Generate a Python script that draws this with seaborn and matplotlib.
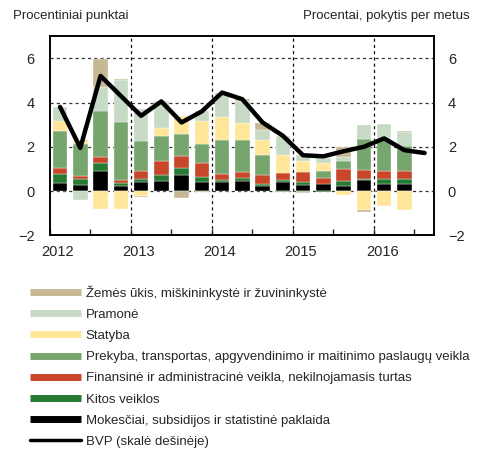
import matplotlib
matplotlib.use("Agg")
import matplotlib.pyplot as plt
import numpy as np
import pandas as pd
import seaborn as sns
from matplotlib.lines import Line2D

sns.set_style("ticks")
plt.rcParams["font.family"] = ["Liberation Sans", "DejaVu Sans"]

# --- data ---
years = [2012, 2013, 2014, 2015, 2016]
quarters = [f"{y}Q{q}" for y in years for q in range(1, 5)][:19]

taxes = [0.35, 0.26, 0.93, 0.21, 0.39, 0.47, 0.74, 0.39, 0.42, 0.46, 0.24, 0.41, 0.27, 0.30, 0.21, 0.48, 0.34, 0.34]
other = [0.41, 0.29, 0.36, 0.14, 0.17, 0.27, 0.30, 0.23, 0.10, 0.12, 0.10, 0.10, 0.14, -0.05, 0.23, 0.05, 0.20, 0.20]
finance = [0.27, 0.12, 0.23, 0.15, 0.36, 0.60, 0.53, 0.63, 0.24, 0.28, 0.37, 0.33, 0.44, 0.29, 0.56, 0.42, 0.35, 0.35]
trade = [1.70, 1.46, 2.12, 2.60, 1.35, 1.13, 1.02, 0.87, 1.53, 1.45, 0.90, -0.04, -0.04, 0.32, 0.35, 1.41, 1.47, 1.16]
construction = [0.42, 0.12, -0.81, -0.81, -0.20, 0.36, 0.81, 1.05, 1.05, 0.78, 0.70, 0.80, 0.53, 0.36, -0.18, -0.84, -0.65, -0.86]
industry = [0.65, -0.39, 1.04, 1.90, 1.43, 1.25, 0.00, 0.45, 1.05, 0.99, 0.45, 0.83, 0.27, 0.24, 0.20, 0.62, 0.65, 0.60]
agriculture = [0.00, 0.05, 1.29, 0.08, -0.08, 0.00, -0.30, -0.05, 0.05, 0.07, 0.30, 0.00, -0.04, 0.00, 0.45, -0.12, 0.00, 0.08]
gdp = [3.80, 1.95, 5.20, 4.30, 3.40, 4.05, 3.10, 3.60, 4.45, 4.15, 3.10, 2.50, 1.62, 1.57, 1.80, 2.00, 2.38, 1.85, 1.72]

labels = [
    "Žemės ūkis, miškininkystė ir žuvininkystė",
    "Pramonė",
    "Statyba",
    "Prekyba, transportas, apgyvendinimo ir maitinimo paslaugų veikla",
    "Finansinė ir administracinė veikla, nekilnojamasis turtas",
    "Kitos veiklos",
    "Mokesčiai, subsidijos ir statistinė paklaida",
]
gdp_label = "BVP (skalė dešinėje)"
colors = ["#c7b894", "#c6dac6", "#ffe699", "#76a56e", "#c8472a", "#267a31", "#000000"]

# stacking order from zero outwards
stack = [taxes, other, finance, trade, construction, industry, agriculture]
stack_colors = colors[::-1]

x_bar = np.array([int(q[:4]) + (int(q[-1]) - 0.5) / 4 for q in quarters[:len(taxes)]])
x_line = np.array([int(q[:4]) + (int(q[-1]) - 0.5) / 4 for q in quarters[:len(gdp)]])

fig = plt.figure(figsize=(4.8, 4.51), dpi=100)
ax = fig.add_axes([0.104, 0.478, 0.800, 0.442])

pos = np.zeros(len(x_bar))
neg = np.zeros(len(x_bar))
for vals, col in zip(stack, stack_colors):
    v = np.array(vals)
    bottom = np.where(v >= 0, pos, neg)
    ax.bar(x_bar, v, width=0.18, bottom=bottom, color=col,
           edgecolor="#ffffff", linewidth=0.25, zorder=2)
    pos += np.clip(v, 0, None)
    neg += np.clip(v, None, 0)

ax.set_xlim(2012, 2016.74)
ax.set_ylim(-2, 7)
for yv in [0, 2, 4, 6]:
    ax.axhline(yv, color="#333333", lw=0.9, ls=(0, (2.5, 2.5)), zorder=1)
for yr in years[1:]:
    ax.axvline(yr, color="#111111", lw=0.9, ls=(0, (2.5, 2.5)), zorder=3)

ax.set_yticks([-2, 0, 2, 4, 6])
ax.tick_params(axis="y", length=0, pad=11, labelsize=10.5)
ax.set_xticks([2012, 2012.5, 2013, 2013.5, 2014, 2014.5, 2015, 2015.5, 2016, 2016.5])
ax.set_xticklabels([])
ax.tick_params(axis="x", which="major", direction="in", length=4, width=1)
ax.set_xticks([y + 0.1 for y in years], [str(y) for y in years], minor=True)
ax.tick_params(axis="x", which="minor", length=0, pad=7, labelsize=10.5)

ax2 = ax.twinx()
sns.lineplot(x=x_line, y=gdp, ax=ax2, color="black", lw=3.2, zorder=5)
ax2.set_ylim(-2, 7)
ax2.set_yticks([-2, 0, 2, 4, 6])
ax2.tick_params(axis="y", length=0, pad=10, labelsize=10.5)

for a in (ax, ax2):
    for s in a.spines.values():
        s.set_visible(True)
        s.set_color("black")
        s.set_linewidth(1.2)

fig.text(0.027, 0.965, "Procentiniai punktai", fontsize=9.5, va="center", ha="left")
fig.text(0.979, 0.965, "Procentai, pokytis per metus", fontsize=9.5, va="center", ha="right")

handles = [Line2D([], [], color=c, lw=5, solid_capstyle="butt") for c in colors]
handles.append(Line2D([], [], color="black", lw=2.5, solid_capstyle="round"))
fig.legend(handles, labels + [gdp_label], loc="upper left", bbox_to_anchor=(0.062, 0.368),
           frameon=False, fontsize=9.5, handlelength=3.9, handletextpad=0.35,
           labelspacing=0.68, borderpad=0, borderaxespad=0)

fig.savefig("out.png", dpi=100)
